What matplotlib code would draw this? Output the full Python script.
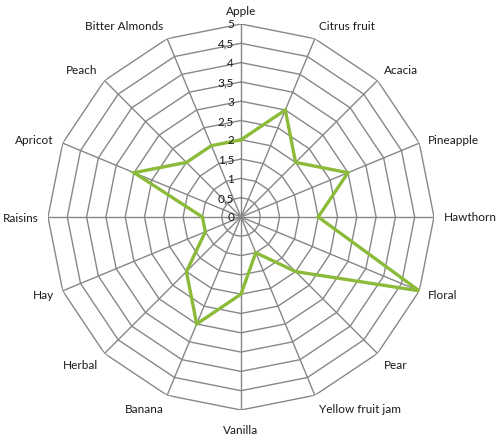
import numpy as np
import matplotlib
matplotlib.use("Agg")
from matplotlib import pyplot as plt

plt.rcParams['font.family'] = ['Lato', 'DejaVu Sans']

# data
categories = ['Apple', 'Citrus fruit', 'Acacia', 'Pineapple', 'Hawthorn', 'Floral',
              'Pear', 'Yellow fruit jam', 'Vanilla', 'Banana', 'Herbal', 'Hay',
              'Raisins', 'Apricot', 'Peach', 'Bitter Almonds']
scores = [2, 3, 2, 3, 2, 5, 2, 1, 2, 3, 2, 1, 1, 3, 2, 2]
levels = [0, 0.5, 1, 1.5, 2, 2.5, 3, 3.5, 4, 4.5, 5]
level_labels = ['0', '0,5', '1', '1,5', '2', '2,5', '3', '3,5', '4', '4,5', '5']

grid_col = '#878787'
line_col = '#8cbb3a'

n = len(categories)
theta = np.linspace(0, 2 * np.pi, n, endpoint=False)

W, H = 497, 439
fig = plt.figure(figsize=(W / 100, H / 100), dpi=100)
cx, cy, R = 241, 218, 193
ax = fig.add_axes([(cx - R) / W, (H - cy - R) / H, 2 * R / W, 2 * R / H], projection='polar')
ax.set_theta_zero_location('N')
ax.set_theta_direction(-1)
ax.set_ylim(0, 5)
ax.set_xticks([])
ax.set_yticks([])
ax.grid(False)
ax.spines['polar'].set_visible(False)
ax.patch.set_visible(False)

# polygon web
tt = np.append(theta, theta[0])
for lv in levels[1:]:
    ax.plot(tt, [lv] * len(tt), color=grid_col, lw=1.0, zorder=1)
for t in theta:
    ax.plot([t, t], [0, 5], color=grid_col, lw=1.0, zorder=1)

# data line
vals = scores + scores[:1]
ax.plot(tt, vals, color=line_col, lw=2.4, zorder=3, solid_joinstyle='miter')

# radial tick labels along the Apple axis
for lv, lab in zip(levels, level_labels):
    ax.annotate(lab, xy=(0, lv), xytext=(-5, 0), textcoords='offset points',
                ha='right', va='center', fontsize=8.5, color='#1a1a1a', zorder=4)

# category labels
for t, lab in zip(theta, categories):
    s, c = np.sin(t), np.cos(t)
    ha = 'center' if abs(s) < 0.1 else ('left' if s > 0 else 'right')
    va = 'center' if abs(c) < 0.5 else ('bottom' if c > 0 else 'top')
    dy = 6 * c
    if c < -0.99:
        dy = -10
    ax.annotate(lab, xy=(t, 5), xytext=(7 * s, dy), textcoords='offset points',
                ha=ha, va=va, fontsize=8.5, color='#1a1a1a', annotation_clip=False)

fig.savefig('out.png', dpi=100)
